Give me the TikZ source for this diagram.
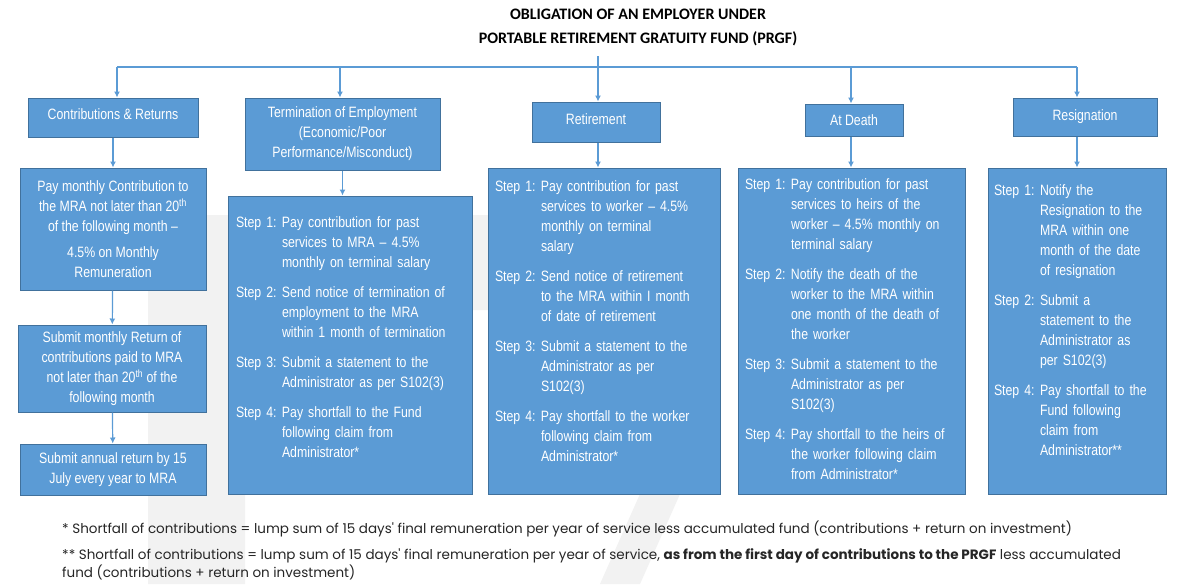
\documentclass[tikz,border=0pt]{standalone}
\usepackage{fontspec}
\setmainfont{Liberation Sans}
\newfontfamily\boxfont{Liberation Sans}[FakeStretch=0.82]
\newfontfamily\titlefont{Carlito}
\newfontfamily\footfont{Poppins}
\usetikzlibrary{arrows.meta}
\definecolor{bfill}{HTML}{5B9BD5}
\definecolor{bdraw}{HTML}{41719C}
\definecolor{ftxt}{HTML}{262626}
\newlength\sw
\setlength\sw{46pt}
\newcommand\stp[2]{\par\noindent\raggedright\hangindent=\sw\hangafter=1\makebox[\sw][l]{Step #1:}#2\par\vspace{10pt}}
\begin{document}
\begin{tikzpicture}[x=1pt,y=-1pt,
  box/.style={draw=bdraw,line width=1pt,fill=bfill,text=white,inner sep=0pt,
    font=\boxfont\fontsize{15}{20}\selectfont,align=center},
  sbox/.style={box,align=left},
  arr/.style={draw=bfill,line width=1.2pt,-{Latex[length=6pt,width=6pt]}},
  ln/.style={draw=bfill,line width=1.2pt}]
\fill[white] (0,0) rectangle (1178,584);
\useasboundingbox (0,0) rectangle (1178,584);
% watermark
\fill[gray!10] (148,215) -- (700,215) -- (700,310) -- (245,310) -- (245,584) -- (148,584) -- cycle;
\fill[gray!10] (600,584) -- (640,494) -- (680,494) -- (640,584) -- cycle;
% title
\node[font=\titlefont\bfseries\fontsize{16}{24}\selectfont,align=center] (title) at (638,27) {OBLIGATION OF AN EMPLOYER UNDER\\PORTABLE RETIREMENT GRATUITY FUND (PRGF)};
% headers
\node[box,minimum width=170,minimum height=39] (h1) at (113,117.5) {\raisebox{6pt}{Contributions \& Returns}};
\node[box,minimum width=195,minimum height=72] (h2) at (342.5,134) {Termination of Employment\\(Economic/Poor\\Performance/Misconduct)};
\node[box,minimum width=128,minimum height=40] (h3) at (596,122) {\raisebox{6pt}{Retirement}};
\node[box,minimum width=98,minimum height=32] (h4) at (854,120) {At Death};
\node[box,minimum width=144,minimum height=38] (h5) at (1085,117) {\raisebox{3pt}{Resignation}};
% top connectors
\coordinate (tl) at (117,67);
\coordinate (tr) at (1077,67);
\coordinate (tm) at (598,67);
\draw[ln] (598,56) -- (tm);
\draw[ln] (tl) -- (tr);
\draw[arr] (tl) -- (h1.north -| tl);
\draw[arr] (340,67) -- (h2.north -| 340,0);
\draw[arr] (tm) -- (h3.north -| tm);
\draw[arr] (851,67) -- (h4.north -| 851,0);
\draw[arr] (tr) -- (h5.north -| tr);
% contributions column
\node[box,minimum width=186,minimum height=122] (c1) at (113,229) {Pay monthly Contribution to\\the MRA not later than 20\textsuperscript{th}\\of the following month \textendash\\[6pt]4.5\% on Monthly\\Remuneration};
\node[box,minimum width=188,minimum height=87] (c2) at (112,368.5) {Submit monthly Return of\\contributions paid to MRA\\not later than 20\textsuperscript{th} of the\\following month};
\node[box,minimum width=186,minimum height=51] (c3) at (113,469.5) {Submit annual return by 15\\July every year to MRA};
\draw[arr] (h1) -- (c1);
\draw[arr] (c1) -- (c2);
\draw[arr] (c2) -- (c3);
% termination
\node[sbox,minimum width=244,minimum height=298,text width=228] (s2) at (350,345) {%
\stp{1}{Pay contribution for past\newline services to MRA \textendash\ 4.5\%\newline monthly on terminal salary}
\stp{2}{Send notice of termination of\newline employment to the MRA\newline within 1 month of termination}
\stp{3}{Submit a statement to the\newline Administrator as per S102(3)}
\stp{4}{Pay shortfall to the Fund\newline following claim from\newline Administrator*}\vspace{14pt}};
\draw[arr] (h2) -- (h2.south |- s2.north);
% retirement
\node[sbox,minimum width=232,minimum height=326,text width=218] (s3) at (604,331) {%
\stp{1}{Pay contribution for past\newline services to worker \textendash\ 4.5\%\newline monthly on terminal\newline salary}
\stp{2}{Send notice of retirement\newline to the MRA within I month\newline of date of retirement}
\stp{3}{Submit a statement to the\newline Administrator as per\newline S102(3)}
\stp{4}{Pay shortfall to the worker\newline following claim from\newline Administrator*}\vspace{18pt}};
\draw[arr] (h3.south -| tm) -- (s3.north -| tm);
% death
\node[sbox,minimum width=227,minimum height=326,text width=213] (s4) at (851.5,331) {%
\stp{1}{Pay contribution for past\newline services to heirs of the\newline worker \textendash\ 4.5\% monthly on\newline terminal salary}
\stp{2}{Notify the death of the\newline worker to the MRA within\newline one month of the death of\newline the worker}
\stp{3}{Submit a statement to the\newline Administrator as per\newline S102(3)}
\stp{4}{Pay shortfall to the heirs of\newline the worker following claim\newline from Administrator*}\vspace{2pt}};
\draw[arr] (h4.south -| 851,0) -- (s4.north -| 851,0);
% resignation
\node[sbox,minimum width=178,minimum height=326,text width=166] (s5) at (1077,331) {%
\stp{1}{Notify the\newline Resignation to the\newline MRA within one\newline month of the date\newline of resignation}
\stp{2}{Submit a\newline statement to the\newline Administrator as\newline per S102(3)}
\stp{4}{Pay shortfall to the\newline Fund following\newline claim from\newline Administrator**}\vspace{20pt}};
\draw[arr] (h5.south -| tr) -- (s5.north -| tr);
% footnotes
\node[anchor=west,text=ftxt,font=\footfont\fontsize{13.5}{18}\selectfont,align=left,inner sep=0pt] (f1) at (62,529) {* Shortfall of contributions = lump sum of 15 days' final remuneration per year of service less accumulated fund (contributions + return on investment)};
\node[anchor=north west,text=ftxt,font=\footfont\fontsize{13.5}{18}\selectfont,align=left,inner sep=0pt] (f2) at (62,548) {** Shortfall of contributions = lump sum of 15 days' final remuneration per year of service, \textbf{as from the first day of contributions to the PRGF} less accumulated\\fund (contributions + return on investment)};
\end{tikzpicture}
\end{document}
